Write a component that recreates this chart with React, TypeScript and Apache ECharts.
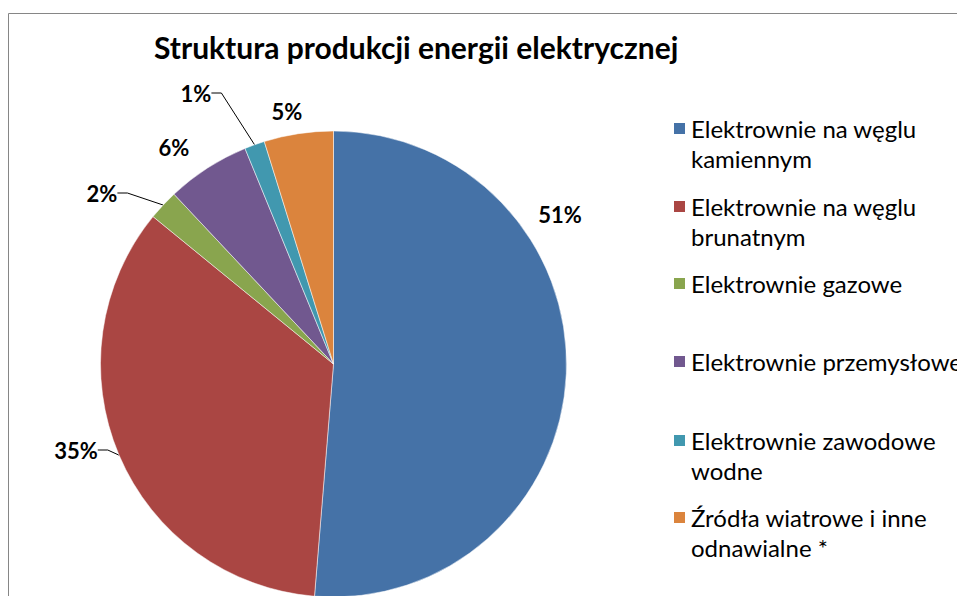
import React, { useEffect, useRef } from "react";
import * as echarts from "echarts";

const title = "Struktura produkcji energii elektrycznej";
const categories = [
  "Elektrownie na węglu kamiennym",
  "Elektrownie na węglu brunatnym",
  "Elektrownie gazowe",
  "Elektrownie przemysłowe",
  "Elektrownie zawodowe wodne",
  "Źródła wiatrowe i inne odnawialne *",
];
const legendLines = [
  ["Elektrownie na węglu", "kamiennym"],
  ["Elektrownie na węglu", "brunatnym"],
  ["Elektrownie gazowe"],
  ["Elektrownie przemysłowe"],
  ["Elektrownie zawodowe", "wodne"],
  ["Źródła wiatrowe i inne", "odnawialne *"],
];
const values = [51.3, 34.6, 2.1, 5.8, 1.4, 4.8];
const colors = ["#4572A7", "#AA4643", "#89A54E", "#71588F", "#4198AF", "#DB843D"];
const showLabelLine = [false, true, true, false, true, false];

// layout (not data)
const labelPos: [number, number][] = [
  [560, 214],
  [76, 450],
  [102, 193],
  [174, 147],
  [196, 93],
  [287, 111],
];
const legendMarkerY = [130, 208, 285, 363, 442, 519];
const LH = 29.5;
const FONT = "Lato, 'Noto Sans', sans-serif";

export default function App() {
  const ref = useRef<HTMLDivElement>(null);
  useEffect(() => {
    if (!ref.current) return;
    const chart = echarts.init(ref.current, null, { renderer: "svg" });
    const legends = categories.map((name, i) => ({
      orient: "vertical",
      left: 672,
      top: legendMarkerY[i] - 6.5 - 1.5 * LH + 5,
      padding: 0,
      itemWidth: 13,
      itemHeight: 13,
      icon: "rect",
      selectedMode: false,
      data: [name],
      formatter: (n: string) => {
        const idx = categories.indexOf(n);
        const l = legendLines[idx];
        return l.length > 1 ? "\n" + l.join("\n") : "\n" + l[0] + "\n";
      },
      textStyle: {
        fontFamily: FONT,
        fontSize: 24,
        lineHeight: LH,
        color: "#000",
      },
    }));
    chart.setOption({
      animation: false,
      color: colors,
      title: {
        text: title,
        left: 149,
        top: 27,
        textStyle: { fontFamily: FONT, fontSize: 30, fontWeight: "bold", color: "#000" },
      },
      legend: legends,
      graphic: [
        {
          type: "rect",
          shape: { x: 8.5, y: 13.5, width: 1400, height: 1400 },
          style: { fill: "none", stroke: "#868686", lineWidth: 1 },
          silent: true,
          z: -10,
        },
      ],
      series: [
        {
          type: "pie",
          center: [333.5, 364],
          radius: 233,
          startAngle: 90,
          clockwise: true,
          itemStyle: { borderColor: "#fff", borderWidth: 0.5 },
          label: {
            show: true,
            position: "outside",
            formatter: (p: any) => Math.round(p.percent) + "%",
            fontFamily: FONT,
            fontSize: 22,
            fontWeight: "bold",
            color: "#000",
          },
          labelLine: { show: true, length: 10, length2: 10, lineStyle: { color: "#000", width: 1 } },
          labelLayout: (params: any) => {
            const p = labelPos[params.dataIndex];
            return { x: p[0], y: p[1], align: "center", verticalAlign: "middle" };
          },
          data: categories.map((name, i) => ({
            name,
            value: values[i],
            labelLine: { show: showLabelLine[i] },
          })),
        },
      ],
    });
    return () => chart.dispose();
  }, []);
  return (
    <div
      ref={ref}
      style={{ position: "fixed", left: 0, top: 0, width: 957, height: 596, background: "#fff" }}
    />
  );
}
